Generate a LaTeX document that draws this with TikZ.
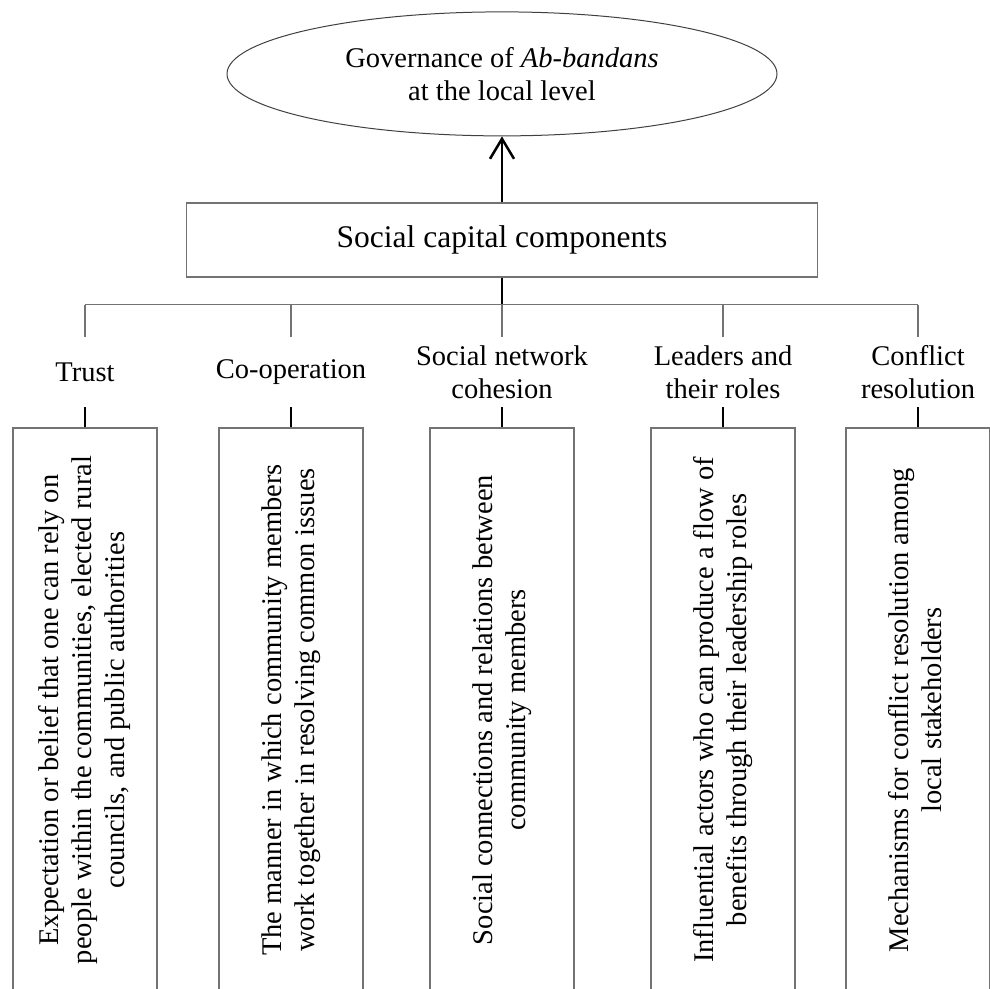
\documentclass[tikz,border=0pt]{standalone}
\usepackage{fontspec}
\setmainfont{Liberation Serif}
\usepackage{graphicx}
\usetikzlibrary{positioning,shapes.geometric,arrows.meta}
\definecolor{framegray}{gray}{0.45}
\newcommand{\bodyfont}{\fontsize{28.5}{33}\selectfont}
\newcommand{\upright}[1]{\rotatebox{90}{\begin{tabular}{@{}c@{}}#1\end{tabular}}}
\tikzset{
  topic/.style={ % ellipse holding the outcome
    ellipse, draw=black!75, line width=1pt,
    minimum width=550pt, minimum height=124pt,
    inner sep=0pt, align=center, font=\bodyfont
  },
  compbox/.style={ % box of the social capital components
    rectangle, draw=framegray, line width=1.2pt,
    minimum width=631pt, minimum height=74pt,
    inner sep=0pt, font=\fontsize{31.5}{36}\selectfont
  },
  heading/.style={ % name of one component
    inner sep=0pt, minimum height=70pt, align=center, font=\bodyfont
  },
  desc/.style={ % tall box with the rotated description
    rectangle, draw=framegray, line width=1.2pt,
    minimum width=144pt, minimum height=564pt,
    inner sep=0pt, font=\bodyfont
  },
  bar/.style={draw=framegray, line width=1.2pt},
  tick/.style={black, line width=2.2pt},
  lift/.style={black, line width=2.5pt, -{Straight Barb[length=20pt,width=24pt]}}
}
\begin{document}
\begin{tikzpicture}[x=1pt, y=1pt]
    \useasboundingbox (0,0) rectangle (990,988);

    \node[compbox] (comp) at (502,748) {Social capital components};
    \node[topic] (gov)[above=66pt of comp] {Governance of \textit{Ab-bandans}\\at the local level};
    \coordinate[below=27pt of comp] (hub);

    \node[desc] (trust) at (85,278) {\upright{Expectation or belief that one can rely on\\people within the communities, elected rural\\councils, and public authorities}};
    \node[desc] (coop) at (291,278) {\upright{The manner in which community members\\work together in resolving common issues}};
    \node[desc] (social) at (502,278) {\upright{Social connections and relations between\\community members}};
    \node[desc] (leaders) at (723,278) {\upright{Influential actors who can produce a flow of\\benefits through their leadership roles}};
    \node[desc] (conflict) at (918,278) {\upright{Mechanisms for conflict resolution among\\local stakeholders}};

    \node[heading] (trust_label)[above=20pt of trust] {Trust};
    \node[heading] (coop_label)[above=20pt of coop] {Co-operation};
    \node[heading] (social_label)[above=20pt of social] {Social network\\cohesion};
    \node[heading] (leaders_label)[above=20pt of leaders] {Leaders and\\their roles};
    \node[heading] (conflict_label)[above=20pt of conflict] {Conflict\\resolution};

    \draw[lift] (comp) -- (gov);
    \draw[tick] (comp) -- ([yshift=-3pt]hub);
    \draw[bar] (trust_label.north |- hub) -- (conflict_label.north |- hub);

    \draw[bar] (trust_label.north |- hub) -- (trust_label.north);
    \draw[bar] (coop_label.north |- hub) -- (coop_label.north);
    \draw[bar] (social_label.north |- hub) -- (social_label.north);
    \draw[bar] (leaders_label.north |- hub) -- (leaders_label.north);
    \draw[bar] (conflict_label.north |- hub) -- (conflict_label.north);

    \draw[tick] (trust_label) -- (trust);
    \draw[tick] (coop_label) -- (coop);
    \draw[tick] (social_label) -- (social);
    \draw[tick] (leaders_label) -- (leaders);
    \draw[tick] (conflict_label) -- (conflict);
\end{tikzpicture}
\end{document}
